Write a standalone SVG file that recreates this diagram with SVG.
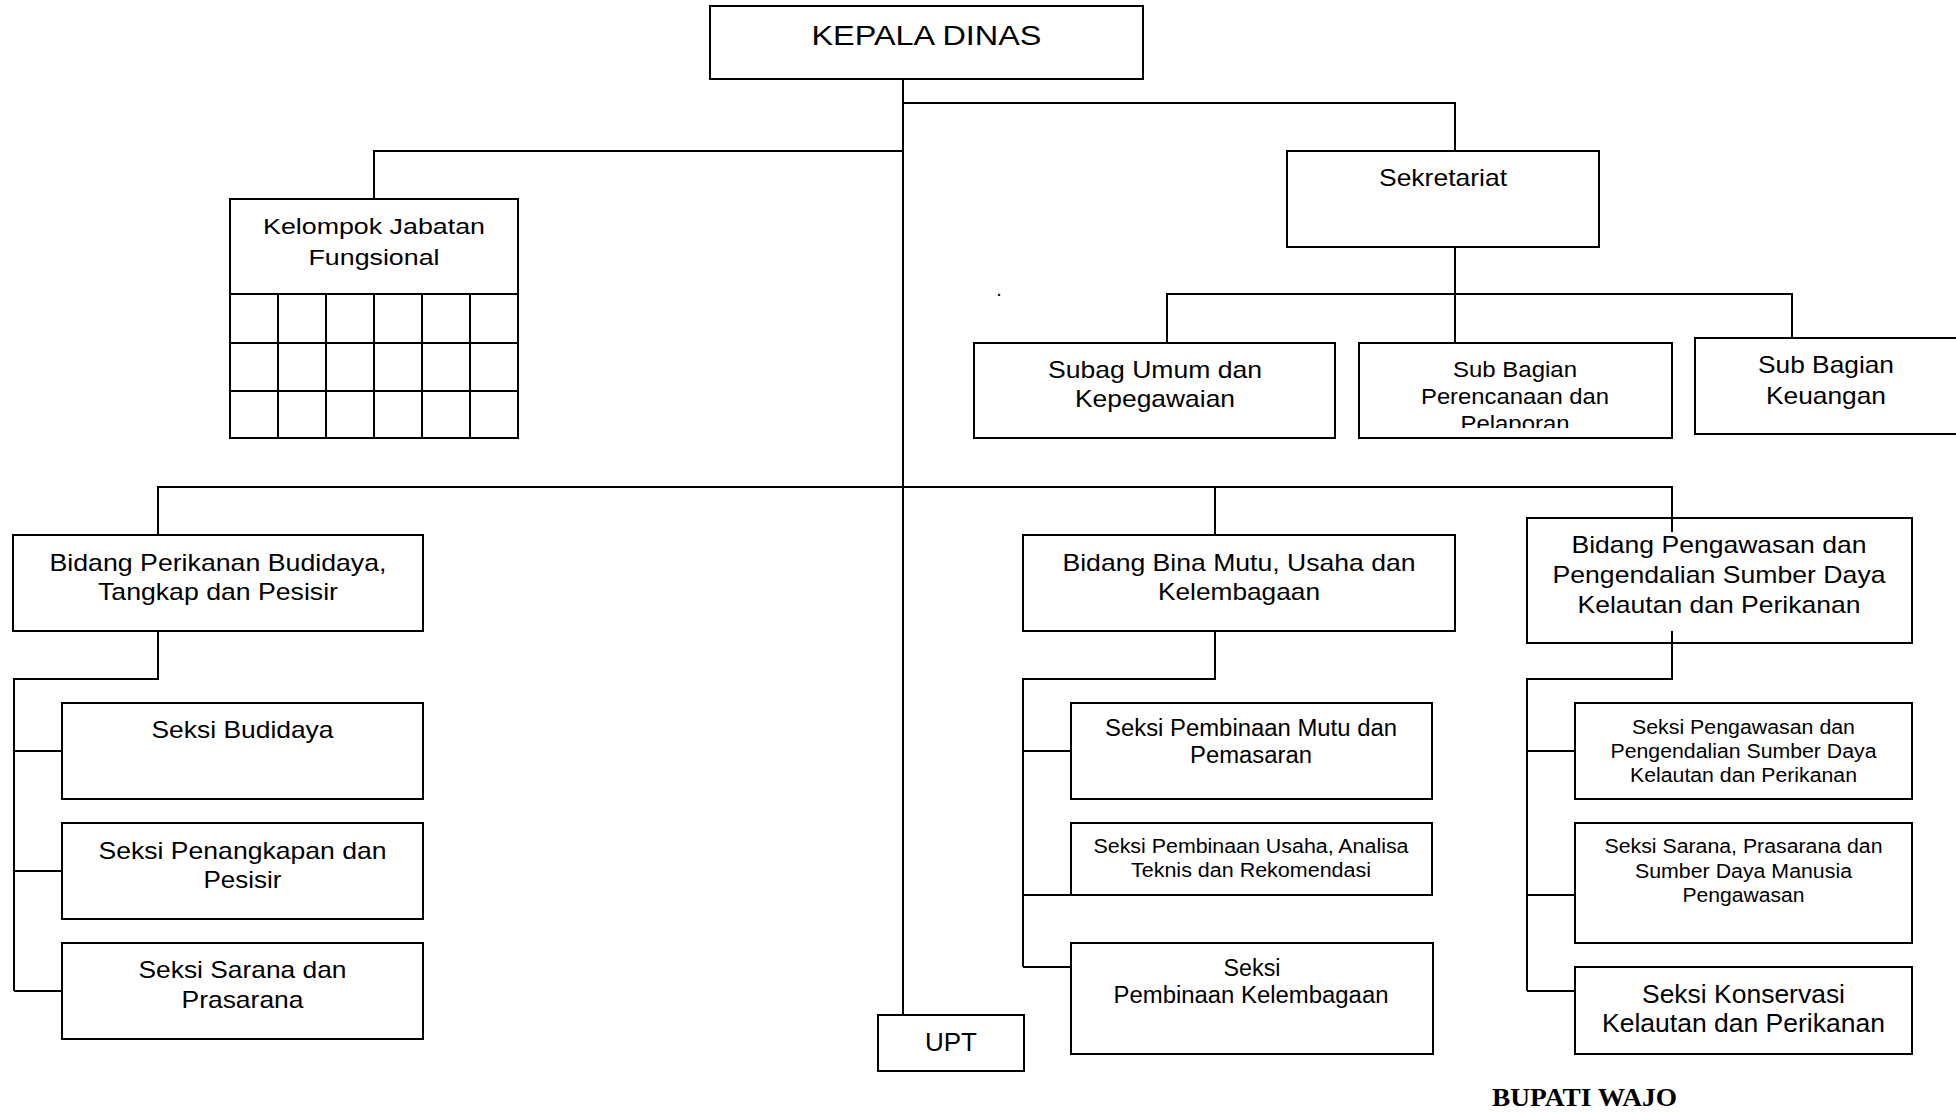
<svg xmlns="http://www.w3.org/2000/svg" width="1956" height="1112" viewBox="0 0 1956 1112">
<style>
.box{fill:#fff;stroke:#000;stroke-width:2}
.grid{stroke:#000;stroke-width:2;fill:none}
.ln{stroke:#000;stroke-width:2;fill:none}
text{font-family:"Liberation Sans",Arial,sans-serif;fill:#000;text-anchor:middle}
.s27{font-size:27px}.s25{font-size:25px}.s24{font-size:24px}.s23{font-size:23px}.s22{font-size:22px}.s20{font-size:20px}
.bup{font-family:"Liberation Serif","Times New Roman",serif;font-weight:bold;font-size:26px;text-anchor:start}
</style>
<defs>
<clipPath id="clipPer"><rect x="1359" y="343" width="313" height="85"/></clipPath>
</defs>
<rect width="1956" height="1112" fill="#fff"/>
<g id="nodes">
<g id="kepala"><rect class="box" x="710" y="6" width="433" height="73"/><text class="s27" x="926.5" y="45" textLength="230" lengthAdjust="spacingAndGlyphs">KEPALA DINAS</text></g>
<g id="kelompok"><rect class="box" x="230" y="199" width="288" height="239"/>
<path class="grid" d="M230 294H518M230 343H518M230 391H518M278 294V438M326 294V438M374 294V438M422 294V438M470 294V438"/>
<text class="s22" x="374" y="234" textLength="222" lengthAdjust="spacingAndGlyphs">Kelompok Jabatan</text>
<text class="s22" x="374" y="265" textLength="131" lengthAdjust="spacingAndGlyphs">Fungsional</text></g>
<g id="sekretariat"><rect class="box" x="1287" y="151" width="312" height="96"/><text class="s24" x="1443" y="186" textLength="128" lengthAdjust="spacingAndGlyphs">Sekretariat</text></g>
<g id="subag-umum"><rect class="box" x="974" y="343" width="361" height="95"/>
<text class="s24" x="1155" y="378" textLength="214" lengthAdjust="spacingAndGlyphs">Subag Umum dan</text>
<text class="s24" x="1155" y="407" textLength="160" lengthAdjust="spacingAndGlyphs">Kepegawaian</text></g>
<g id="sub-perencanaan"><rect class="box" x="1359" y="343" width="313" height="95"/>
<text class="s22" x="1515" y="377" textLength="124" lengthAdjust="spacingAndGlyphs">Sub Bagian</text>
<text class="s22" x="1515" y="404" textLength="188" lengthAdjust="spacingAndGlyphs">Perencanaan dan</text>
<text class="s22" x="1515" y="431" textLength="109" lengthAdjust="spacingAndGlyphs" clip-path="url(#clipPer)">Pelaporan</text></g>
<g id="sub-keuangan"><rect class="box" x="1695" y="338" width="275" height="96"/>
<text class="s24" x="1826" y="373" textLength="136" lengthAdjust="spacingAndGlyphs">Sub Bagian</text>
<text class="s24" x="1826" y="404" textLength="120" lengthAdjust="spacingAndGlyphs">Keuangan</text></g>
<g id="bidang-perikanan"><rect class="box" x="13" y="535" width="410" height="96"/>
<text class="s24" x="218" y="571" textLength="337" lengthAdjust="spacingAndGlyphs">Bidang Perikanan Budidaya,</text>
<text class="s24" x="218" y="600" textLength="240" lengthAdjust="spacingAndGlyphs">Tangkap dan Pesisir</text></g>
<g id="seksi-budidaya"><rect class="box" x="62" y="703" width="361" height="96"/>
<text class="s24" x="242.5" y="738" textLength="182" lengthAdjust="spacingAndGlyphs">Seksi Budidaya</text></g>
<g id="seksi-penangkapan"><rect class="box" x="62" y="823" width="361" height="96"/>
<text class="s24" x="242.5" y="859" textLength="288" lengthAdjust="spacingAndGlyphs">Seksi Penangkapan dan</text>
<text class="s24" x="242.5" y="888" textLength="78" lengthAdjust="spacingAndGlyphs">Pesisir</text></g>
<g id="seksi-sarana"><rect class="box" x="62" y="943" width="361" height="96"/>
<text class="s24" x="242.5" y="978" textLength="208" lengthAdjust="spacingAndGlyphs">Seksi Sarana dan</text>
<text class="s24" x="242.5" y="1008" textLength="122" lengthAdjust="spacingAndGlyphs">Prasarana</text></g>
<g id="bidang-bina"><rect class="box" x="1023" y="535" width="432" height="96"/>
<text class="s24" x="1239" y="571" textLength="353" lengthAdjust="spacingAndGlyphs">Bidang Bina Mutu, Usaha dan</text>
<text class="s24" x="1239" y="600" textLength="162" lengthAdjust="spacingAndGlyphs">Kelembagaan</text></g>
<g id="seksi-mutu"><rect class="box" x="1071" y="703" width="361" height="96"/>
<text class="s23" x="1251" y="736" textLength="292" lengthAdjust="spacingAndGlyphs">Seksi Pembinaan Mutu dan</text>
<text class="s23" x="1251" y="763" textLength="122" lengthAdjust="spacingAndGlyphs">Pemasaran</text></g>
<g id="seksi-usaha"><rect class="box" x="1071" y="823" width="361" height="72"/>
<text class="s20" x="1251" y="853" textLength="315" lengthAdjust="spacingAndGlyphs">Seksi Pembinaan Usaha, Analisa</text>
<text class="s20" x="1251" y="877" textLength="240" lengthAdjust="spacingAndGlyphs">Teknis dan Rekomendasi</text></g>
<g id="seksi-kelembagaan"><rect class="box" x="1071" y="943" width="362" height="111"/>
<text class="s23" x="1252" y="976" textLength="57" lengthAdjust="spacingAndGlyphs">Seksi</text>
<text class="s23" x="1251" y="1003" textLength="275" lengthAdjust="spacingAndGlyphs">Pembinaan Kelembagaan</text></g>
<g id="upt"><rect class="box" x="878" y="1015" width="146" height="56"/>
<text class="s25" x="951" y="1051" textLength="52" lengthAdjust="spacingAndGlyphs">UPT</text></g>
<g id="bidang-pengawasan"><rect class="box" x="1527" y="518" width="385" height="125"/>
<text class="s24" x="1719" y="553" textLength="295" lengthAdjust="spacingAndGlyphs">Bidang Pengawasan dan</text>
<text class="s24" x="1719" y="583" textLength="333" lengthAdjust="spacingAndGlyphs">Pengendalian Sumber Daya</text>
<text class="s24" x="1719" y="613" textLength="283" lengthAdjust="spacingAndGlyphs">Kelautan dan Perikanan</text></g>
<g id="seksi-pengawasan"><rect class="box" x="1575" y="703" width="337" height="96"/>
<text class="s20" x="1743.5" y="734" textLength="223" lengthAdjust="spacingAndGlyphs">Seksi Pengawasan dan</text>
<text class="s20" x="1743.5" y="758" textLength="266" lengthAdjust="spacingAndGlyphs">Pengendalian Sumber Daya</text>
<text class="s20" x="1743.5" y="782" textLength="227" lengthAdjust="spacingAndGlyphs">Kelautan dan Perikanan</text></g>
<g id="seksi-sdm"><rect class="box" x="1575" y="823" width="337" height="120"/>
<text class="s20" x="1743.5" y="853" textLength="278" lengthAdjust="spacingAndGlyphs">Seksi Sarana, Prasarana dan</text>
<text class="s20" x="1743.5" y="878" textLength="217" lengthAdjust="spacingAndGlyphs">Sumber Daya Manusia</text>
<text class="s20" x="1743.5" y="902" textLength="122" lengthAdjust="spacingAndGlyphs">Pengawasan</text></g>
<g id="seksi-konservasi"><rect class="box" x="1575" y="967" width="337" height="87"/>
<text class="s25" x="1743.5" y="1003" textLength="203" lengthAdjust="spacingAndGlyphs">Seksi Konservasi</text>
<text class="s25" x="1743.5" y="1032" textLength="283" lengthAdjust="spacingAndGlyphs">Kelautan dan Perikanan</text></g>
</g>
<g id="connectors">
<path class="ln" d="M903 79V1015"/>
<path class="ln" d="M903 103H1455V151"/>
<path class="ln" d="M903 151H374V199"/>
<path class="ln" d="M1455 247V343M1167 343V294H1792V338"/>
<path class="ln" d="M158 535V487H1672V532M1215 487V535"/>
<path class="ln" d="M158 631V679H14V991M14 751H62M14 871H62M14 991H62"/>
<path class="ln" d="M1215 631V679H1023V967M1023 751H1071M1023 895H1071M1023 967H1071"/>
<path class="ln" d="M1672 631V679H1527V991M1527 751H1575M1527 895H1575M1527 991H1575"/>
</g>
<text class="s20" x="999" y="296">.</text>
<text class="bup" x="1492" y="1106" textLength="185" lengthAdjust="spacingAndGlyphs">BUPATI WAJO</text>
</svg>
